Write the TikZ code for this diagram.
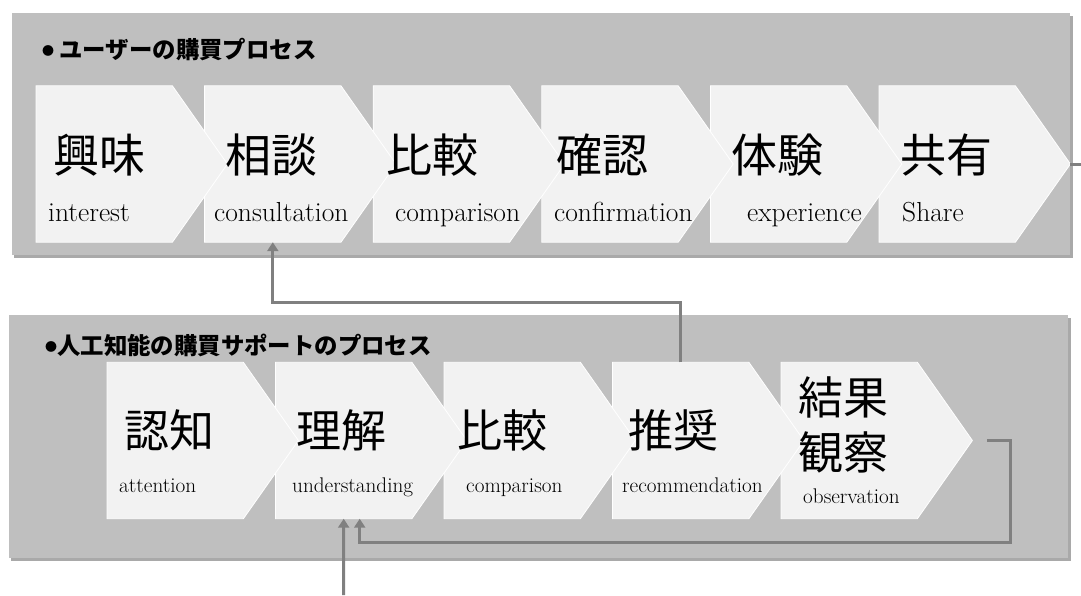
\documentclass[tikz,border=0pt]{standalone}
\usepackage{fontspec}
\newfontfamily\jp{Noto Sans CJK JP}
\usetikzlibrary{arrows.meta}
\definecolor{panelgray}{HTML}{BFBFBF}
\definecolor{shadowgray}{HTML}{A9A9A9}
\definecolor{chevfill}{HTML}{F2F2F2}
\definecolor{conngray}{HTML}{808080}
\tikzset{
  panel/.style={fill=panelgray, draw=none, inner sep=0pt, anchor=north west},
  flat/.style={draw=none, fill=none, inner sep=0pt, anchor=west, minimum width=136pt, minimum height=156pt},
  chev/.style={fill=chevfill, draw=white, line width=0.8pt, line join=miter},
  kjA/.style={font=\jp\fontsize{46}{50}\selectfont, anchor=base west, inner sep=0pt},
  kjB/.style={font=\jp\fontsize{45}{50}\selectfont, anchor=base west, inner sep=0pt},
  enA/.style={font=\fontsize{27.5}{31}\selectfont, anchor=base west, inner sep=0pt},
  enB/.style={font=\fontsize{21.2}{25}\selectfont, anchor=base west, inner sep=0pt},
  ttl/.style={font=\jp\bfseries\fontsize{23.4}{27}\selectfont, anchor=base west, inner sep=0pt},
  conn/.style={draw=conngray, line width=3pt},
  arr/.style={-{Triangle[width=11pt,length=9pt]}}
}
\newcommand{\smallbullet}{{\fontsize{12}{12}\selectfont\raisebox{2.5pt}{●}}}
\begin{document}
\begin{tikzpicture}[x=1pt, y=-1pt]
\useasboundingbox (0,0) rectangle (1081,595);
\fill[white] (0,0) rectangle (1081,595);
% panels
\fill[shadowgray] (14,16) rectangle (1073,258);
\node[panel, minimum width=1058pt, minimum height=242pt] (P1) at (12,13) {};
\fill[shadowgray] (11,318) rectangle (1071,561);
\node[panel, minimum width=1059pt, minimum height=243pt] (P2) at (9,315) {};
% top chevrons (right to left so left ones lie on top)
\foreach \i/\x in {6/879,5/710.4,4/541.8,3/373.2,2/204.6,1/36} {
  \node[flat] (u\i) at (\x,164) {};
  \path[chev] (u\i.north west) -- (u\i.north east) -- ([xshift=55pt]u\i.east) -- (u\i.south east) -- (u\i.south west) -- cycle;
}
% bottom chevrons
\foreach \i/\x in {5/781,4/612.5,3/444,2/275.5,1/107} {
  \node[flat] (r\i) at (\x,440.5) {};
  \path[chev] (r\i.north west) -- (r\i.north east) -- ([xshift=55pt]r\i.east) -- (r\i.south east) -- (r\i.south west) -- cycle;
}
% titles
\node[ttl] (t1) at (42,58) {\smallbullet\ ユーザーの購買プロセス};
\node[ttl] (t2) at (45,354) {\smallbullet 人工知能の購買サポートのプロセス};
% top texts
\node[kjA] (uk1) at (53,172) {興味};
\node[kjA] (uk2) at (225,172) {相談};
\node[kjA] (uk3) at (386,172) {比較};
\node[kjA] (uk4) at (556,172) {確認};
\node[kjA] (uk5) at (731,172) {体験};
\node[kjA] (uk6) at (900,172) {共有};
\node[enA] (ue1) at (48,221) {interest};
\node[enA] (ue2) at (214,221) {consultation};
\node[enA] (ue3) at (395,221) {comparison};
\node[enA] (ue4) at (554,221) {confirmation};
\node[enA] (ue5) at (747,221) {experience};
\node[enA] (ue6) at (902,221) {Share};
% bottom texts
\node[kjB] (rk1) at (124,447) {認知};
\node[kjB] (rk2) at (296,447) {理解};
\node[kjB] (rk3) at (457,447) {比較};
\node[kjB] (rk4) at (628,447) {推奨};
\node[kjB] (rk5a) at (798,414) {結果};
\node[kjB] (rk5b) at (798,469) {観察};
\node[enB] (re1) at (119,492) {attention};
\node[enB] (re2) at (292,492) {understanding};
\node[enB] (re3) at (466,492) {comparison};
\node[enB] (re4) at (622,492) {recommendation};
\node[enB] (re5) at (803,503) {observation};
% connectors
\coordinate (exitR) at (1081,164);
\coordinate (src) at (343.5,595);
\draw[conn] ([xshift=55pt]u6.east) -- (exitR);
\draw[conn, arr] (r4.north) -- ++(0,-60) -| (u2.south);
\draw[conn, arr] ([xshift=70pt]r5.east) -- ++(23,0) -- ++(0,101.5) -| ([xshift=16pt]r2.south);
\draw[conn, arr] (src) -- (r2.south);
\end{tikzpicture}
\end{document}
